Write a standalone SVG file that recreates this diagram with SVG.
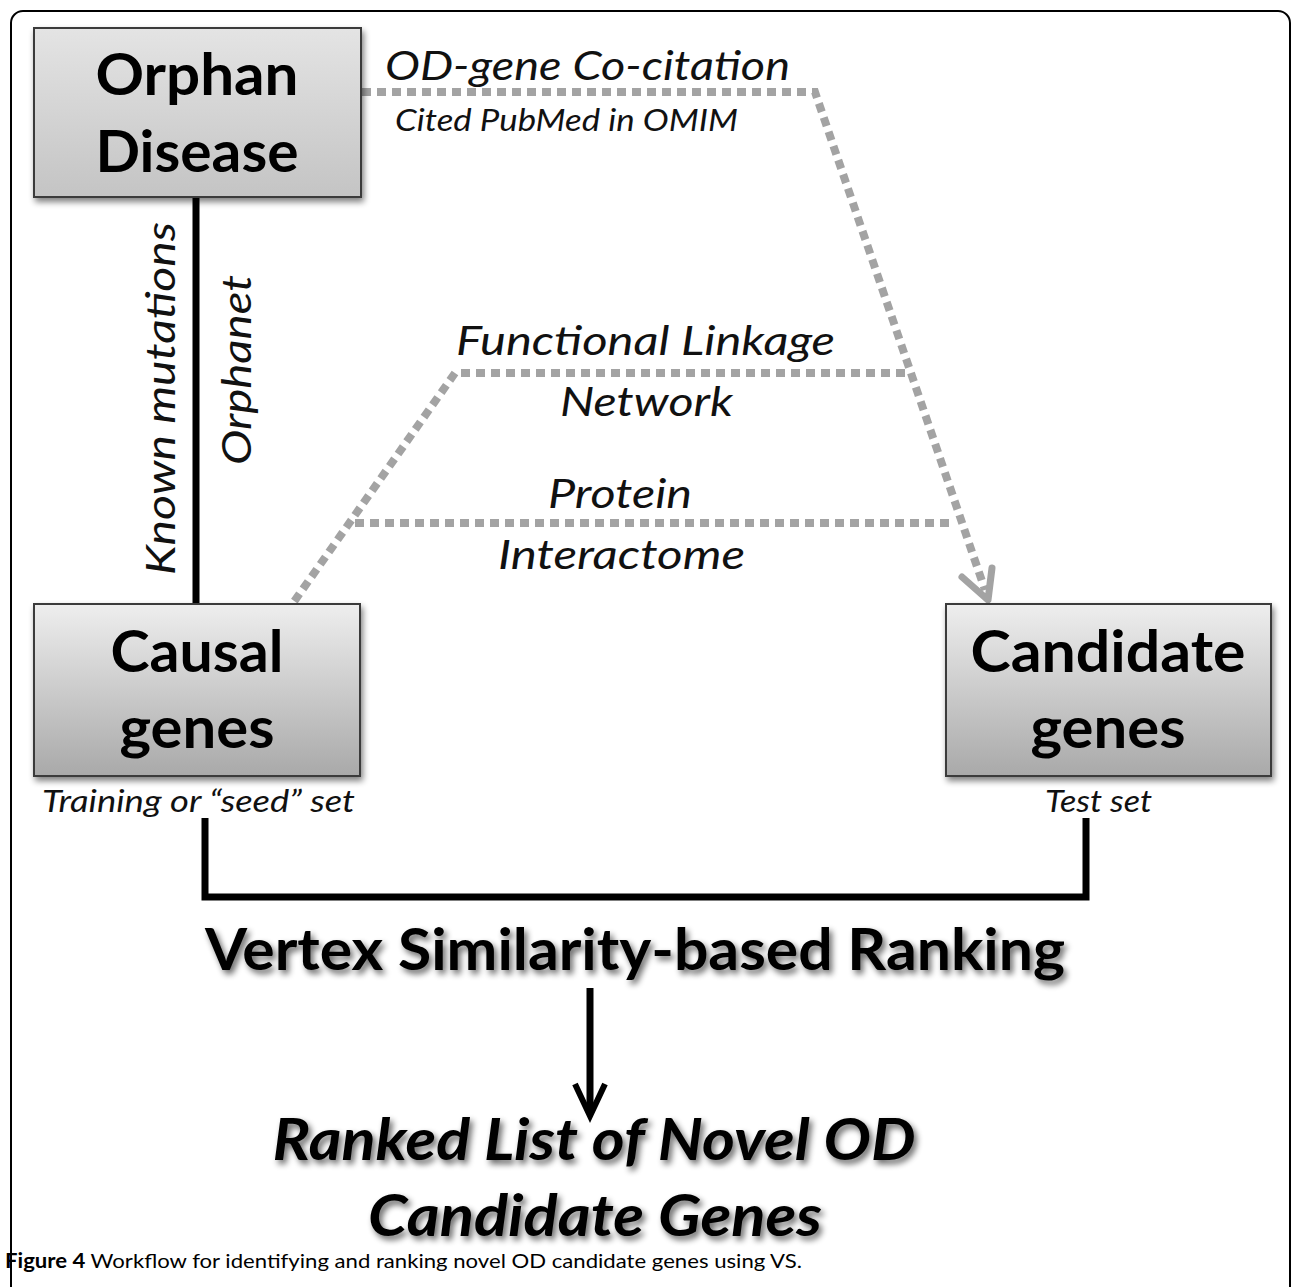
<svg xmlns="http://www.w3.org/2000/svg" width="1292" height="1287" viewBox="0 0 1292 1287">
<defs>
<linearGradient id="boxg" x1="0" y1="0" x2="0" y2="1">
<stop offset="0" stop-color="#eeeeee"/>
<stop offset="1" stop-color="#a9a9a9"/>
</linearGradient>
<linearGradient id="boxg2" x1="0" y1="0" x2="0" y2="1">
<stop offset="0" stop-color="#e4e4e4"/>
<stop offset="1" stop-color="#c4c4c4"/>
</linearGradient>
<filter id="sh" x="-10%" y="-10%" width="130%" height="140%">
<feGaussianBlur in="SourceAlpha" stdDeviation="3"/>
<feOffset dx="2" dy="4" result="b"/>
<feComponentTransfer><feFuncA type="linear" slope="0.5"/></feComponentTransfer>
<feMerge><feMergeNode/><feMergeNode in="SourceGraphic"/></feMerge>
</filter>
<filter id="tsh" x="-5%" y="-20%" width="110%" height="150%">
<feGaussianBlur in="SourceAlpha" stdDeviation="3"/>
<feOffset dx="3" dy="4" result="b"/>
<feComponentTransfer><feFuncA type="linear" slope="0.6"/></feComponentTransfer>
<feMerge><feMergeNode/><feMergeNode in="SourceGraphic"/></feMerge>
</filter>
</defs>
<style>
.box{stroke:#3a3a3a;stroke-width:2;}
.big{font-family:Lato,"Open Sans",sans-serif;font-weight:bold;font-size:58px;fill:#000;text-anchor:middle;}
.it{font-family:Lato,"Open Sans",sans-serif;font-style:italic;fill:#111;}
.dot{fill:none;stroke:#a3a3a3;stroke-width:8;stroke-dasharray:9 6;}
.solid{fill:none;stroke:#000;stroke-width:7;}
</style>
<rect x="11" y="11" width="1279" height="1290" rx="12" fill="#fff" stroke="#000" stroke-width="2"/>

<g id="connectors">
<path class="dot" d="M362 92 H815 L985 590"/>
<polyline points="962,577 988,600 992,568" fill="none" stroke="#a3a3a3" stroke-width="7" stroke-linecap="round" stroke-linejoin="round"/>
<path class="dot" d="M905 373 H455 L293 603"/>
<path class="dot" d="M355 523 H955"/>
<line class="solid" x1="196" y1="197" x2="196" y2="604"/>
<path class="solid" d="M205 818 V897 H1086 V818"/>
<line class="solid" x1="590" y1="988" x2="590" y2="1112"/>
<polyline points="575,1084 590,1116 605,1084" fill="none" stroke="#000" stroke-width="6"/>
</g>

<g id="orphan-disease">
<rect class="box" x="34" y="28" width="327" height="169" fill="url(#boxg2)" filter="url(#sh)"/>
<text class="big" x="197" y="95" textLength="203" lengthAdjust="spacingAndGlyphs">Orphan</text>
<text class="big" x="197" y="172" textLength="203" lengthAdjust="spacingAndGlyphs">Disease</text>
</g>

<g id="causal-genes">
<rect class="box" x="34" y="604" width="326" height="172" fill="url(#boxg)" filter="url(#sh)"/>
<text class="big" x="197" y="672" textLength="173" lengthAdjust="spacingAndGlyphs">Causal</text>
<text class="big" x="197" y="748" textLength="155" lengthAdjust="spacingAndGlyphs">genes</text>
</g>

<g id="candidate-genes">
<rect class="box" x="946" y="604" width="325" height="172" fill="url(#boxg)" filter="url(#sh)"/>
<text class="big" x="1108" y="672" textLength="275" lengthAdjust="spacingAndGlyphs">Candidate</text>
<text class="big" x="1108" y="748" textLength="155" lengthAdjust="spacingAndGlyphs">genes</text>
</g>

<g id="labels">
<text class="it" x="385" y="80" font-size="40" textLength="405" lengthAdjust="spacingAndGlyphs">OD-gene Co-citation</text>
<text class="it" x="395" y="131" font-size="30" textLength="343" lengthAdjust="spacingAndGlyphs">Cited PubMed in OMIM</text>
<text class="it" x="456" y="355" font-size="40" textLength="379" lengthAdjust="spacingAndGlyphs">Functional Linkage</text>
<text class="it" x="560" y="416" font-size="40" textLength="173" lengthAdjust="spacingAndGlyphs">Network</text>
<text class="it" x="548" y="508" font-size="40" textLength="144" lengthAdjust="spacingAndGlyphs">Protein</text>
<text class="it" x="498" y="569" font-size="40" textLength="247" lengthAdjust="spacingAndGlyphs">Interactome</text>
<text class="it" font-size="40" transform="translate(175 575) rotate(-90)" textLength="353" lengthAdjust="spacingAndGlyphs">Known mutations</text>
<text class="it" font-size="40" transform="translate(251 465) rotate(-90)" textLength="190" lengthAdjust="spacingAndGlyphs">Orphanet</text>
<text class="it" x="42" y="812" font-size="30" textLength="313" lengthAdjust="spacingAndGlyphs">Training or “seed” set</text>
<text class="it" x="1045" y="812" font-size="30" textLength="107" lengthAdjust="spacingAndGlyphs">Test set</text>
</g>

<g id="vs-ranking" filter="url(#tsh)">
<text class="big" x="635" y="970" font-size="56" textLength="860" lengthAdjust="spacingAndGlyphs">Vertex Similarity-based Ranking</text>
</g>
<g id="ranked-list" filter="url(#tsh)">
<text class="big" x="594" y="1160" font-style="italic" textLength="643" lengthAdjust="spacingAndGlyphs">Ranked List of Novel OD</text>
<text class="big" x="595" y="1236" font-style="italic" textLength="454" lengthAdjust="spacingAndGlyphs">Candidate Genes</text>
</g>

<text x="5" y="1268" font-family="Lato,'Open Sans',sans-serif" font-size="20" fill="#000" textLength="797" lengthAdjust="spacingAndGlyphs"><tspan font-weight="bold">Figure 4</tspan> Workflow for identifying and ranking novel OD candidate genes using VS.</text>
</svg>
